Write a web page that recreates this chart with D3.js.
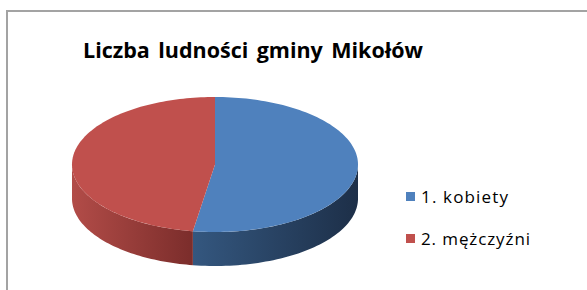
<!DOCTYPE html>
<html>
<head>
<meta charset="utf-8">
<script src="https://cdn.jsdelivr.net/npm/d3@7"></script>
<style>
  html, body { margin: 0; padding: 0; background: #fff; }
  svg { display: block; }
</style>
</head>
<body>
<svg id="chart" width="587" height="290"></svg>
<script>
// dane
const title = "Liczba ludności gminy Mikołów"
const categories = ["1. kobiety", "2. mężczyźni"]
const values = [20700, 18750]
const topColors = ["#4f81bd", "#c0504d"]
const sideColors = [["#34577f", "#1d2f48"], ["#b24c48", "#7b2d2b"]]

const svg = d3.select("#chart")
const width = 587, height = 290
const font = "'Open Sans', 'Noto Sans', sans-serif"

/* ramka wykresu */
svg.append("rect")
    .attr("x", 7).attr("y", 11)
    .attr("width", width + 20).attr("height", height + 20)
    .attr("fill", "#fff")
    .attr("stroke", "#a3a3a3")
    .attr("stroke-width", 2)

/* tytuł - szerokość jak w oryginale (~340px), dopasowana odstępem między słowami */
const titleText = svg.append("text")
    .attr("x", 83).attr("y", 58)
    .attr("font-family", font)
    .attr("font-weight", "bold")
    .attr("font-size", 21.5)
    .attr("fill", "#000")
    .text(title)
const tw = titleText.node().getComputedTextLength()
const nSpaces = title.split(" ").length - 1
titleText.attr("word-spacing", Math.max(0, (340 - tw) / nSpaces))

/* geometria pie 3d */
const cx = 215, cy = 164.5, rx = 143, ry = 67.5, depth = 34

const pie = d3.pie().sort(null).startAngle(0).endAngle(2 * Math.PI)
const arcs = pie(values)

const px = a => cx + rx * Math.sin(a)
const py = (a, dz = 0) => cy - ry * Math.cos(a) + dz
const line = d3.line()

const defs = svg.append("defs")
sideColors.forEach((c, i) => {
    const gr = defs.append("linearGradient").attr("id", "side" + i)
        .attr("x1", 0).attr("x2", 1).attr("y1", 0).attr("y2", 0)
    gr.append("stop").attr("offset", 0).attr("stop-color", c[0])
    gr.append("stop").attr("offset", 1).attr("stop-color", c[1])
})

const g = svg.append("g")

/* boki - tylko przednia część (pi/2 .. 3pi/2) */
arcs.forEach((d, i) => {
    const a0 = Math.max(d.startAngle, Math.PI / 2)
    const a1 = Math.min(d.endAngle, 3 * Math.PI / 2)
    if (a1 <= a0) return
    const n = 60
    const angs = d3.range(n + 1).map(k => a0 + (a1 - a0) * k / n)
    const pts = angs.map(a => [px(a), py(a)])
        .concat(angs.slice().reverse().map(a => [px(a), py(a, depth)]))
    g.append("path")
        .attr("d", line(pts) + "Z")
        .attr("fill", `url(#side${i})`)
})

/* górne powierzchnie */
arcs.forEach((d, i) => {
    const n = 120
    const angs = d3.range(n + 1).map(k => d.startAngle + (d.endAngle - d.startAngle) * k / n)
    const pts = [[cx, cy]].concat(angs.map(a => [px(a), py(a)]))
    g.append("path")
        .attr("d", line(pts) + "Z")
        .attr("fill", topColors[i])
})

/* legenda */
const legendWidths = [87, 109]
const legend = svg.append("g")
    .selectAll("g")
    .data(categories)
    .join("g")
    .attr("transform", (d, i) => `translate(406, ${192 + i * 42})`)

legend.append("rect")
    .attr("width", 9).attr("height", 9)
    .attr("fill", (d, i) => topColors[i])

legend.append("text")
    .attr("x", 15).attr("y", 11)
    .attr("font-family", font)
    .attr("font-size", 17)
    .attr("fill", "#000")
    .attr("textLength", (d, i) => legendWidths[i])
    .attr("lengthAdjust", "spacing")
    .text(d => d)
</script>
</body>
</html>
